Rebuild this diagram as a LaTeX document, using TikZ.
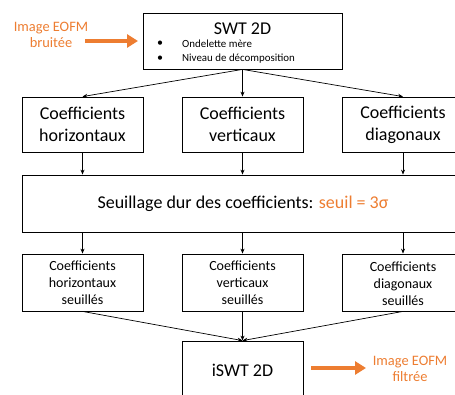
\documentclass[tikz,border=0pt]{standalone}
\usepackage{fontspec}
\setmainfont{Carlito}
\usetikzlibrary{arrows.meta}
\definecolor{orng}{HTML}{ED7D31}
\begin{document}
\begin{tikzpicture}[x=1pt,y=-1pt,
  box/.style={draw,line width=0.8pt,inner sep=0pt,align=center},
  big/.style={font=\fontsize{18}{22}\selectfont},
  small/.style={font=\fontsize{14}{17}\selectfont},
  lbl/.style={text=orng,align=center,font=\fontsize{14.4}{16}\selectfont},
  conn/.style={line width=0.7pt,-{Stealth[length=5pt,width=4pt]}},
  fat/.style={draw=orng,line width=4pt,-{Triangle[length=11pt,width=13pt]}}]
\useasboundingbox (0,0) rectangle (455,395);
\clip (0,0) rectangle (455,395);
% SWT box
\node[box,minimum width=199pt,minimum height=56pt] (swt) at (242.5,41) {};
\node[big] (swtt) at (242.5,29) {SWT 2D};
\node[font=\fontsize{12}{13}\selectfont] (b1) at (160,44) {•};
\node[font=\fontsize{12}{13}\selectfont] (b2) at (160,59) {•};
\node[anchor=west,inner sep=0pt,font=\fontsize{10.9}{13}\selectfont] (t1) at (182,44) {Ondelette mère};
\node[anchor=west,inner sep=0pt,font=\fontsize{10.9}{13}\selectfont] (t2) at (182,59) {Niveau de décomposition};
% input
\node[lbl] (in) at (51,35) {Image EOFM\\bruitée};
\coordinate (ina) at (85,41);
\coordinate (inb) at (138,41);
\draw[fat] (ina) -- (inb);
% row 2
\node[box,big,minimum width=121pt,minimum height=55pt] (h) at (82.5,124.5) {Coefficients\\horizontaux};
\node[box,big,minimum width=121pt,minimum height=55pt] (v) at (242.5,124.5) {Coefficients\\verticaux};
\node[box,big,minimum width=122pt,minimum height=55pt] (d) at (403,124.5) {Coefficients\\diagonaux};
% threshold
\node[box,big,minimum width=442pt,minimum height=57pt] (s) at (243,203.5) {Seuillage dur des coefficients: \textcolor{orng}{seuil = 3σ}};
% row 4
\node[box,small,minimum width=121pt,minimum height=57pt] (hs) at (82.5,282.5) {Coefficients\\horizontaux\\seuillés};
\node[box,small,minimum width=121pt,minimum height=57pt] (vs) at (242.5,282.5) {Coefficients\\verticaux\\seuillés};
\node[box,minimum width=122pt,minimum height=57pt] (ds) at (403,282.5) {};
\node[small,align=center] (dst) at (403,284) {Coefficients\\diagonaux\\seuillés};
% iSWT
\node[box,minimum width=121pt,minimum height=80pt] (i) at (242.5,381) {};
\node[big] (it) at (242.5,370) {iSWT 2D};
% output
\coordinate (outa) at (311,368);
\coordinate (outb) at (366,368);
\draw[fat] (outa) -- (outb);
\node[lbl] (out) at (410,369) {Image EOFM\\filtrée};
% connectors
\draw[conn] (swt.south) -- (h.north);
\draw[conn] (swt.south) -- (v.north);
\draw[conn] (swt.south) -- (d.north);
\draw[conn] (h.south) -- (h.south |- s.north);
\draw[conn] (v.south) -- (v.south |- s.north);
\draw[conn] (d.south) -- (d.south |- s.north);
\draw[conn] (h.south |- s.south) -- (hs.north);
\draw[conn] (v.south |- s.south) -- (vs.north);
\draw[conn] (d.south |- s.south) -- (ds.north);
\draw[conn] (hs.south) -- (i.north);
\draw[conn] (vs.south) -- (i.north);
\draw[conn] (ds.south) -- (i.north);
\end{tikzpicture}
\end{document}
